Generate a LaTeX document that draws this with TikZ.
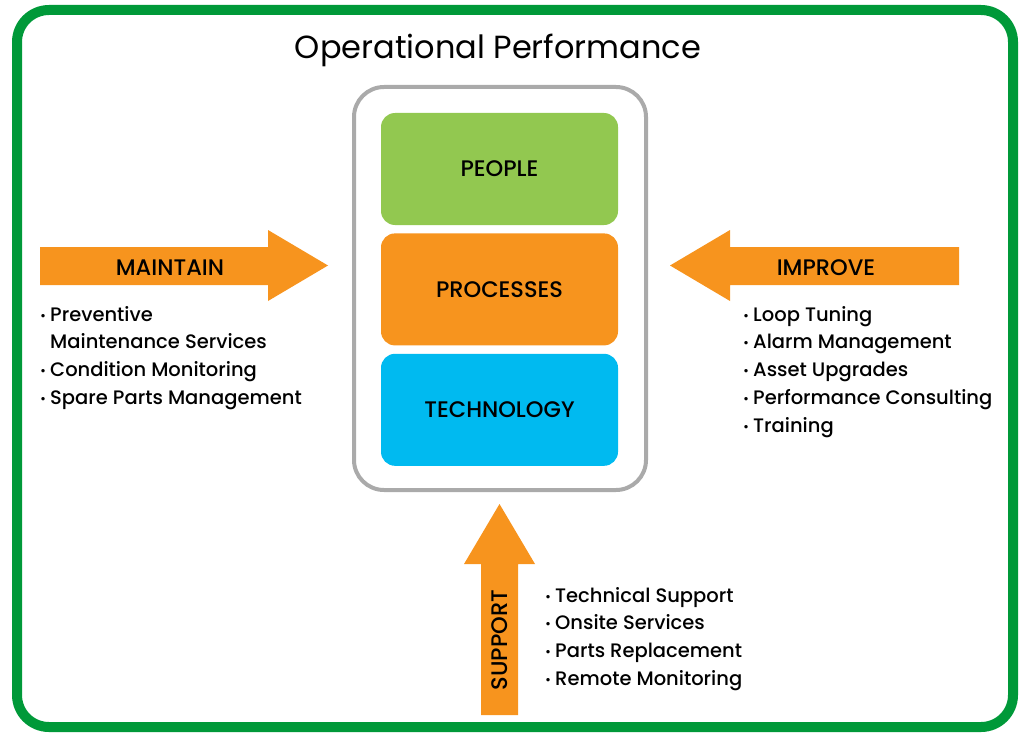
\documentclass[tikz,border=0pt]{standalone}
\usepackage{fontspec}
\setmainfont{Poppins}[UprightFont=* Medium]
\newfontfamily\titlefont{Poppins}
\usetikzlibrary{positioning}
\definecolor{framegreen}{RGB}{0,153,57}
\definecolor{boxgrey}{RGB}{170,170,170}
\definecolor{peoplegreen}{RGB}{146,200,80}
\definecolor{procorange}{RGB}{247,148,30}
\definecolor{techblue}{RGB}{0,186,240}
\newcommand{\bul}{\makebox[10pt][l]{\raisebox{1pt}{\fontsize{13}{13}\selectfont\textbullet}}}
\newcommand{\nobul}{\hspace*{10pt}}

\begin{document}
\begin{tikzpicture}[x=1pt,y=-1pt,
        pillar/.style={rectangle, rounded corners=14pt, minimum width=237pt, minimum height=112pt, font=\fontsize{22.5}{22.5}\selectfont},
        arrowlabel/.style={font=\fontsize{22.5}{22.5}\selectfont},
        bullets/.style={align=left, anchor=north west, inner sep=0pt, font=\fontsize{19.5}{27.7}\selectfont}]
        \useasboundingbox (0,0) rectangle (1019,733);
        \draw[framegreen, line width=10pt, rounded corners=32pt] (17,10) rectangle (1013,727); %Outer frame
        \node[font=\titlefont\fontsize{32}{32}\selectfont] (title) at (498,50) {Operational Performance}; %Title
        \node[draw=boxgrey, line width=4pt, rounded corners=30pt, minimum width=292pt, minimum height=403pt] (frame) at (500,288.5) {}; %Grey box
        \node[pillar, fill=peoplegreen] (people) at (499.5,169) {PEOPLE};
        \node[pillar, fill=procorange, below=8pt of people] (processes) {PROCESSES};
        \node[pillar, fill=techblue, below=8pt of processes] (technology) {TECHNOLOGY};
        \fill[procorange] (40,247) -- ++(228,0) -- ++(0,-17) -- (328,265.5) -- (268,301) -- ++(0,-16) -- (40,285) -- cycle; %Maintain arrow
        \fill[procorange] (959,247) -- ++(-229,0) -- ++(0,-17) -- (670,265.5) -- (730,301) -- ++(0,-16) -- (959,285) -- cycle; %Improve arrow
        \fill[procorange] (481,715) -- ++(0,-151) -- ++(-17,0) -- (499.5,504) -- (535,564) -- ++(-17,0) -- (518,715) -- cycle; %Support arrow
        \node[arrowlabel] (maintain) at (170,268) {MAINTAIN};
        \node[arrowlabel] (improve) at (826,268) {IMPROVE};
        \node[arrowlabel, rotate=90] (support) at (500,640) {SUPPORT};
        \node[bullets] (maintainlist) at (40,306) {\bul Preventive\\\nobul Maintenance Services\\\bul Condition Monitoring\\\bul Spare Parts Management};
        \node[bullets] (improvelist) at (743,306) {\bul Loop Tuning\\\bul Alarm Management\\\bul Asset Upgrades\\\bul Performance Consulting\\\bul Training};
        \node[bullets] (supportlist) at (545,587) {\bul Technical Support\\\bul Onsite Services\\\bul Parts Replacement\\\bul Remote Monitoring};
\end{tikzpicture}
\end{document}
